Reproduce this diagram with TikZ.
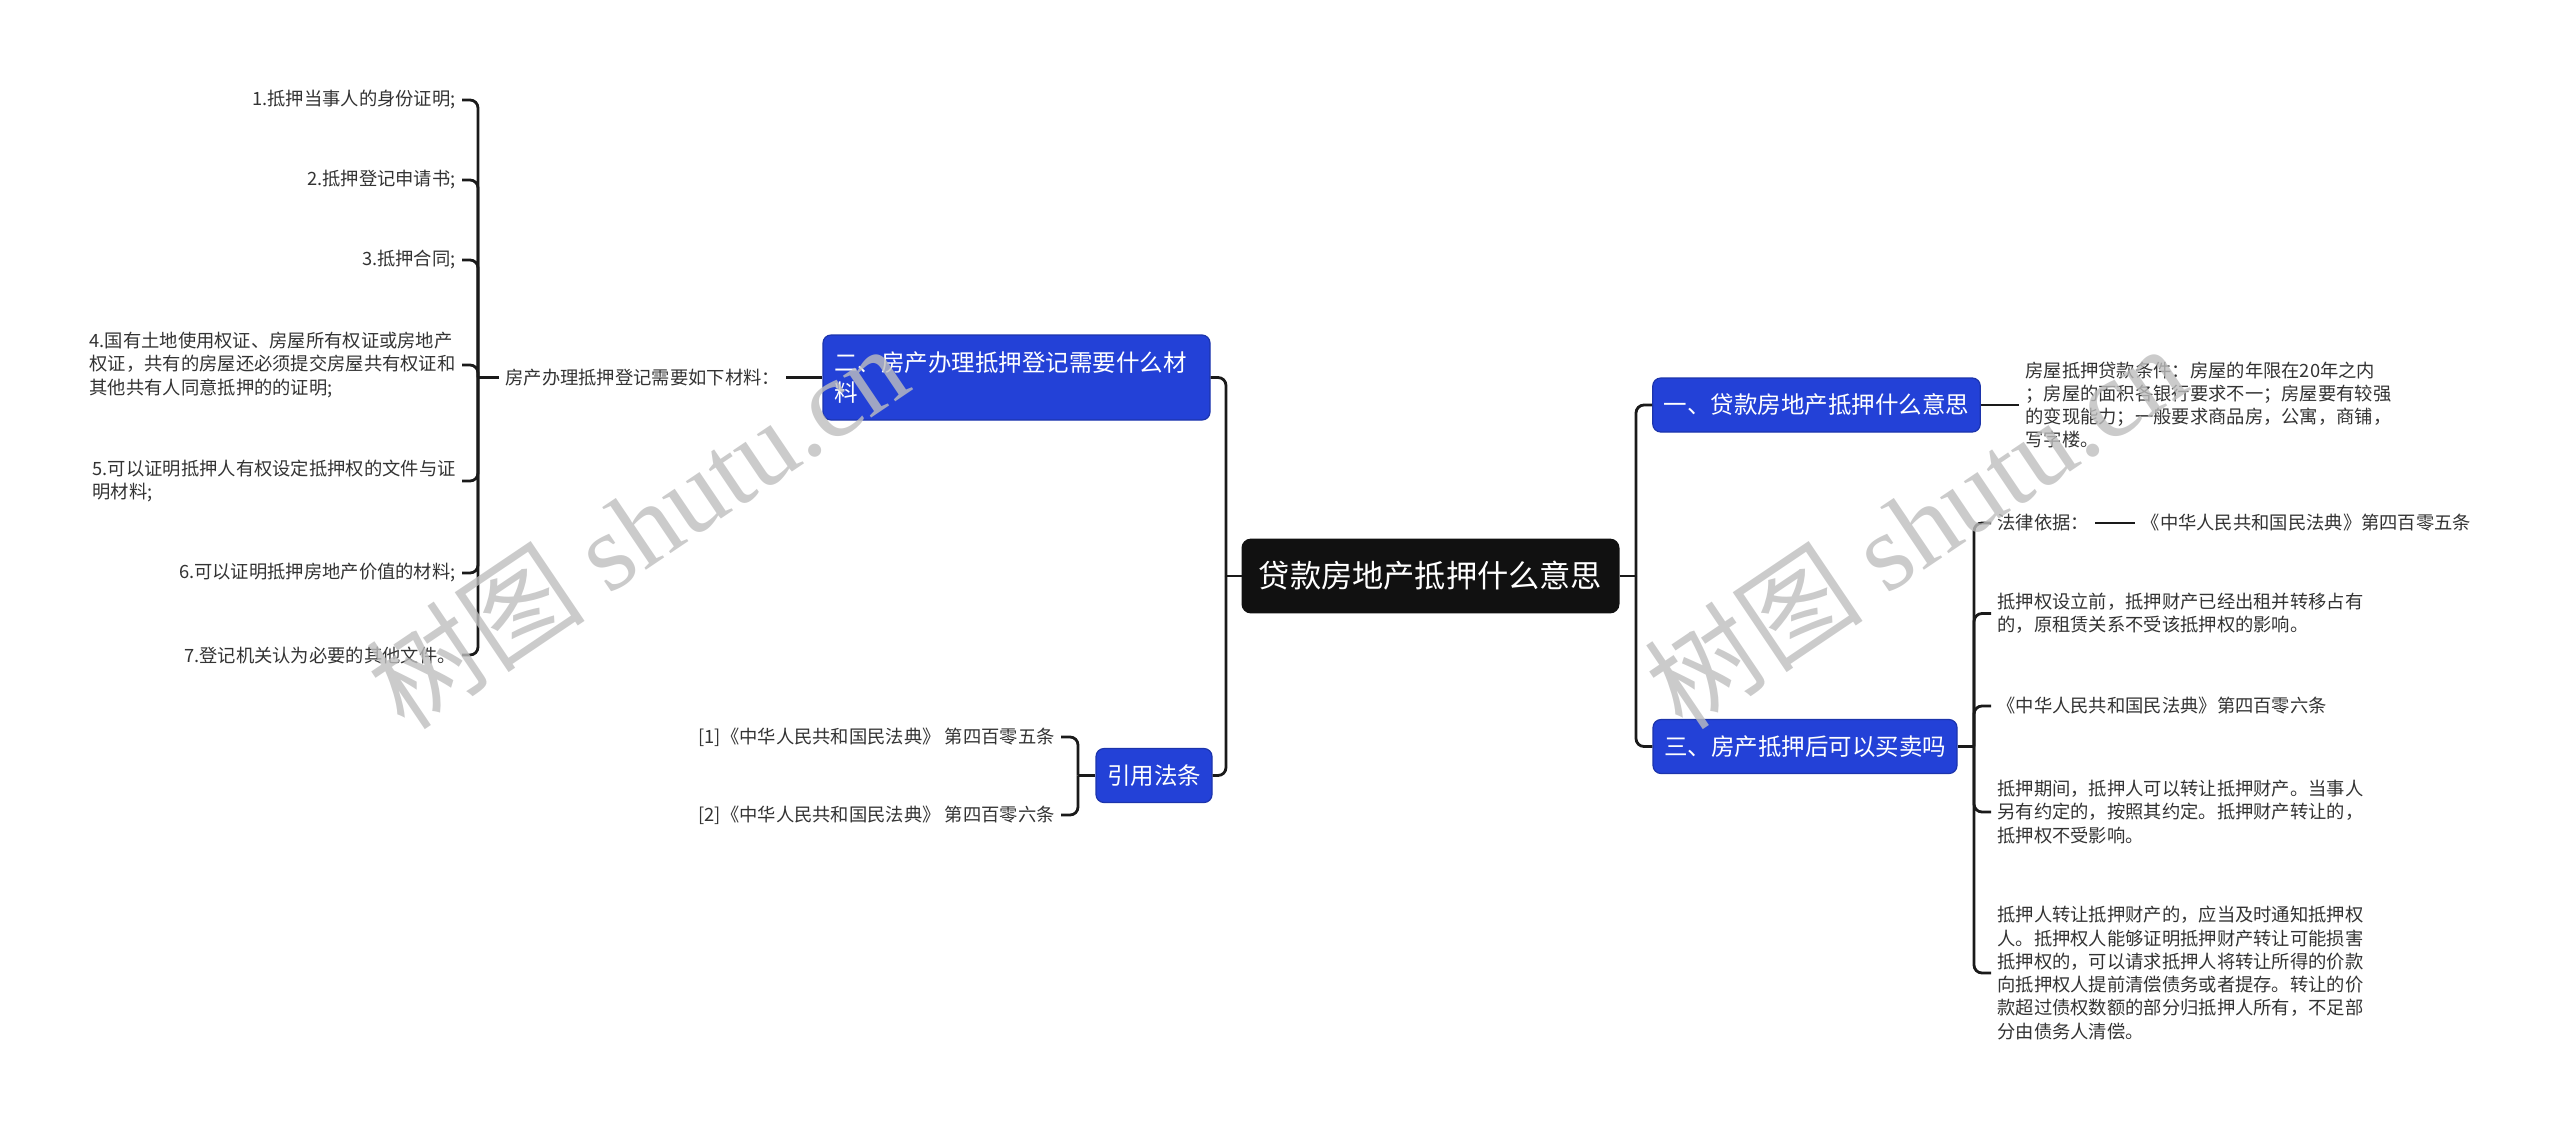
\documentclass[tikz,border=0pt]{standalone}
\usepackage{fontspec}
\setmainfont{Noto Sans CJK SC}
\newfontfamily\wmlatin{Liberation Serif}
\usetikzlibrary{positioning}
\definecolor{rootc}{HTML}{111111}
\definecolor{topicc}{HTML}{2341D7}
\definecolor{linkc}{HTML}{1A1A1A}
\definecolor{leafc}{HTML}{333333}
\definecolor{wmc}{HTML}{BEBEBE}

\begin{document}
\begin{tikzpicture}[x=.5pt,y=-.5pt,line width=1.4pt,
  link/.style={draw=linkc,line width=1.4pt,rounded corners=4pt},
  rootbox/.style={fill=rootc,draw=rootc,rounded corners=4pt,text=white,inner xsep=8pt,minimum height=36pt,font=\fontsize{15.6}{18}\selectfont},
  topicbox/.style={fill=topicc,draw=topicc!80!black,line width=.6pt,rounded corners=4pt,text=white,inner xsep=5.5pt,minimum height=27pt,font=\fontsize{11.75}{15}\selectfont},
  leaf/.style={text=leafc,inner sep=2.5pt,align=left,font=\fontsize{9.15}{11.65}\selectfont},
  wmark/.style={text=wmc,text opacity=.8,rotate=34,inner sep=0pt,font=\fontsize{55}{55}\selectfont}]
\path[use as bounding box] (0,0) rectangle (2560,1131);
\node[rootbox] (root) at (1430.5,576) {贷款房地产抵押什么意思};
\node[topicbox,text width=182.5pt,align=left,minimum height=42.5pt] (t2) at (1016.5,377.5) {二、房产办理抵押登记需要什么材\\料};
\node[topicbox] (t4) at (1154,775.5) {引用法条};
\node[topicbox] (t1) at (1816.5,405) {一、贷款房地产抵押什么意思};
\node[topicbox] (t3) at (1805,746.5) {三、房产抵押后可以买卖吗};
\coordinate (sL) at (1226,576);
\coordinate (sR) at (1636,576);
\draw[link] (root.west) -- (sL);
\draw[link] (sL) |- (t2.east);
\draw[link] (sL) |- (t4.east);
\draw[link] (root.east) -- (sR);
\draw[link] (sR) |- (t1.west);
\draw[link] (sR) |- (t3.west);
\node[leaf,anchor=west] (mat) at (499,377.5) {房产办理抵押登记需要如下材料：};
\coordinate (sM) at (478,377.5);
\draw[link] (mat.east) -- (t2.west);
\draw[link] (mat.west) -- (sM);
\node[leaf,anchor=east] (m1) at (462,100) {1.抵押当事人的身份证明;};
\node[leaf,anchor=east] (m2) at (462,180) {2.抵押登记申请书;};
\node[leaf,anchor=east] (m3) at (462,260) {3.抵押合同;};
\node[leaf,anchor=east] (m4) at (462,365) {4.国有土地使用权证、房屋所有权证或房地产\\权证，共有的房屋还必须提交房屋共有权证和\\其他共有人同意抵押的的证明;};
\node[leaf,anchor=east] (m5) at (462,481) {5.可以证明抵押人有权设定抵押权的文件与证\\明材料;};
\node[leaf,anchor=east] (m6) at (462,573) {6.可以证明抵押房地产价值的材料;};
\node[leaf,anchor=east] (m7) at (462,655) {7.登记机关认为必要的其他文件。};
\draw[link] (sM) |- (m1.east);
\draw[link] (sM) |- (m2.east);
\draw[link] (sM) |- (m3.east);
\draw[link] (sM) |- (m4.east);
\draw[link] (sM) |- (m5.east);
\draw[link] (sM) |- (m6.east);
\draw[link] (sM) |- (m7.east);
\node[leaf,anchor=east] (c1) at (1061,737) {[1]《中华人民共和国民法典》 第四百零五条};
\node[leaf,anchor=east] (c2) at (1061,815) {[2]《中华人民共和国民法典》 第四百零六条};
\coordinate (sC) at (1078,775.5);
\draw[link] (t4.west) -- (sC);
\draw[link] (sC) |- (c1.east);
\draw[link] (sC) |- (c2.east);
\node[leaf,anchor=west] (n1) at (2019,405) {房屋抵押贷款条件：房屋的年限在20年之内\\；房屋的面积各银行要求不一；房屋要有较强\\的变现能力；一般要求商品房，公寓，商铺，\\写字楼。};
\draw[link] (t1.east) -- (n1.west);
\coordinate (s3) at (1974,746.5);
\draw[link] (t3.east) -- (s3);
\node[leaf,anchor=west] (r1) at (1991,523) {法律依据：};
\node[leaf,right=20pt of r1] (r1b) {《中华人民共和国民法典》第四百零五条};
\node[leaf,anchor=west] (r2) at (1991,613.5) {抵押权设立前，抵押财产已经出租并转移占有\\的，原租赁关系不受该抵押权的影响。};
\node[leaf,anchor=west] (r3) at (1991,706) {《中华人民共和国民法典》第四百零六条};
\node[leaf,anchor=west] (r4) at (1991,812) {抵押期间，抵押人可以转让抵押财产。当事人\\另有约定的，按照其约定。抵押财产转让的，\\抵押权不受影响。};
\node[leaf,anchor=west] (r5) at (1991,973) {抵押人转让抵押财产的，应当及时通知抵押权\\人。抵押权人能够证明抵押财产转让可能损害\\抵押权的，可以请求抵押人将转让所得的价款\\向抵押权人提前清偿债务或者提存。转让的价\\款超过债权数额的部分归抵押人所有，不足部\\分由债务人清偿。};
\draw[link] (r1.east) -- (r1b.west);
\draw[link] (s3) |- (r1.west);
\draw[link] (s3) |- (r2.west);
\draw[link] (s3) |- (r3.west);
\draw[link] (s3) |- (r4.west);
\draw[link] (s3) |- (r5.west);
\node[wmark] (w1) at (637,526) {树图 {\wmlatin shutu.cn}};
\node[wmark] (w2) at (1915,526) {树图 {\wmlatin shutu.cn}};
\end{tikzpicture}
\end{document}
